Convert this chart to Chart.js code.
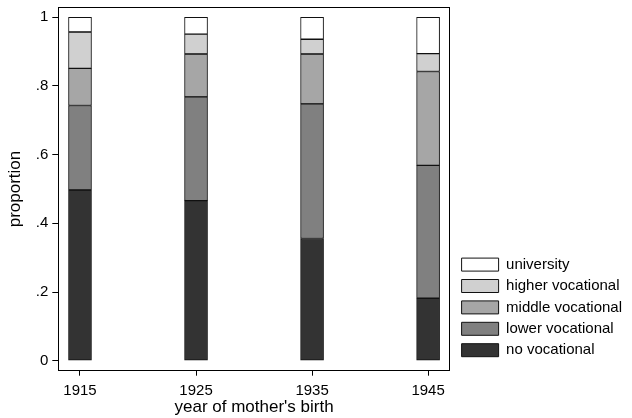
<!DOCTYPE html>
<html>
<head>
<meta charset="utf-8">
<script src="https://cdn.jsdelivr.net/npm/chart.js@4/dist/chart.umd.min.js"></script>
<style>
  html, body { margin: 0; padding: 0; background: #fff; }
  #wrap { width: 632px; height: 418px; }
</style>
</head>
<body>
<div id="wrap"><canvas id="chart" width="632" height="418"></canvas></div>
<script>
// Proportion of mothers by vocational education, per birth cohort
const years = [1915, 1925, 1935, 1945];

const noVocational     = [0.497, 0.466, 0.356, 0.182];
const lowerVocational  = [0.246, 0.302, 0.392, 0.387];
const middleVocational = [0.108, 0.125, 0.145, 0.273];
const higherVocational = [0.106, 0.058, 0.043, 0.052];
const university       = [0.043, 0.049, 0.064, 0.106];

const yTickValues = [0, 0.2, 0.4, 0.6, 0.8, 1];
const yTickLabels = ['0', '.2', '.4', '.6', '.8', '1'];

const seriesNames = ['no vocational', 'lower vocational', 'middle vocational', 'higher vocational', 'university'];
const seriesValues = [noVocational, lowerVocational, middleVocational, higherVocational, university];
const seriesColors = ['#333333', '#808080', '#a6a6a6', '#d0d0d0', '#ffffff'];

Chart.defaults.font.family = "'Liberation Sans', Arial, sans-serif";
Chart.defaults.color = '#000';

// draws the box round the plot area
const frame = {
    id: 'frame',
    afterDraw(chart) {
        const a = chart.chartArea;
        const ctx = chart.ctx;
        ctx.save();
        ctx.strokeStyle = '#000';
        ctx.lineWidth = 1;
        ctx.strokeRect(Math.round(a.left) + 0.5, Math.round(a.top) + 0.5,
            Math.round(a.right - a.left) - 1, Math.round(a.bottom - a.top));
        ctx.restore();
    }
};

const datasets = seriesNames.map((name, i) => ({
    label: name,
    data: years.map((yr, j) => ({ x: yr, y: seriesValues[i][j] })),
    backgroundColor: seriesColors[i],
    borderColor: '#111',
    borderWidth: 1,
    borderSkipped: false,
    barThickness: 23
}));

new Chart(document.getElementById('chart'), {
    type: 'bar',
    data: { datasets: datasets },
    plugins: [frame],
    options: {
        responsive: false,
        animation: false,
        layout: { padding: { top: 7.3, right: 0, bottom: 0, left: 0 } },
        plugins: {
            tooltip: { enabled: false },
            legend: {
                position: 'right',
                align: 'start',
                fullSize: false,
                reverse: true,
                maxWidth: 220,
                title: { display: true, text: '', padding: { top: 229, bottom: 0 } },
                labels: {
                    boxWidth: 37,
                    boxHeight: 13,
                    padding: 6.4,
                    font: { size: 15 },
                    color: '#000'
                }
            }
        },
        scales: {
            x: {
                type: 'linear',
                stacked: true,
                offset: false,
                min: 1913.13,
                max: 1946.87,
                afterBuildTicks: (s) => { s.ticks = years.map(v => ({ value: v })); },
                afterFit: (s) => { s.height = 47.3; s.paddingLeft = 0; s.paddingRight = 0; },
                ticks: {
                    font: { size: 15 },
                    padding: 6,
                    callback: (v) => String(v)
                },
                grid: { display: true, offset: false, drawOnChartArea: false, drawTicks: true, tickLength: 5, color: '#000' },
                border: { display: false },
                title: { display: true, text: "year of mother's birth", font: { size: 17 }, padding: { top: 0, bottom: 0 } }
            },
            y: {
                stacked: true,
                min: -0.029,
                max: 1.029,
                afterBuildTicks: (s) => { s.ticks = yTickValues.map(v => ({ value: v })); },
                afterFit: (s) => { s.width = 58.3; s.paddingTop = 0; s.paddingBottom = 0; },
                ticks: {
                    font: { size: 15 },
                    padding: 4,
                    callback: (v, i) => yTickLabels[i]
                },
                grid: { display: true, drawOnChartArea: false, drawTicks: true, tickLength: 6, color: '#000' },
                border: { display: false },
                title: { display: true, text: 'proportion', font: { size: 17 }, padding: { top: 5, bottom: 0 } }
            },
            gap: {
                type: 'linear',
                position: 'right',
                display: true,
                ticks: { display: false },
                grid: { display: false },
                border: { display: false },
                afterFit: (s) => { s.width = 5.4; s.paddingTop = 0; s.paddingBottom = 0; }
            }
        }
    }
});
</script>
</body>
</html>
